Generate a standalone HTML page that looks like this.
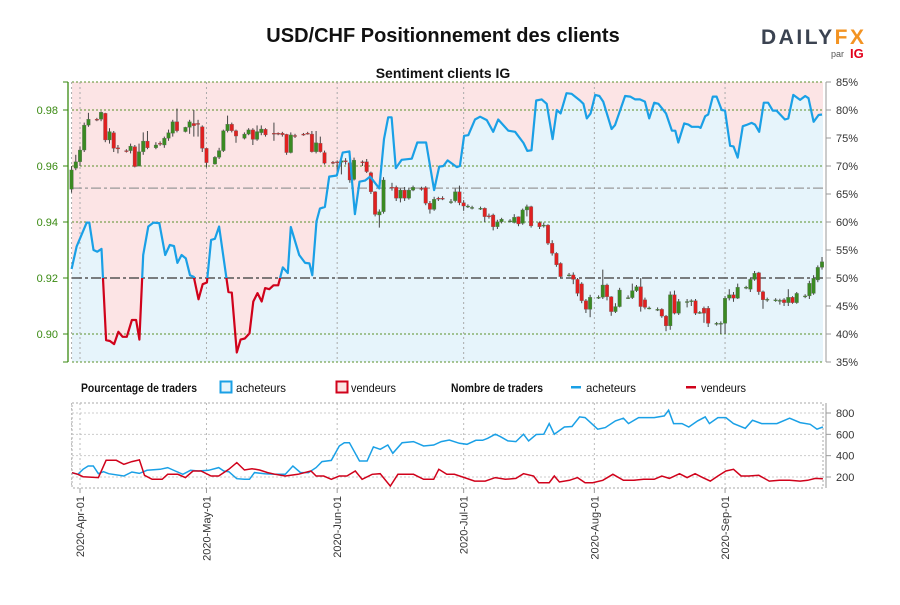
<!DOCTYPE html>
<html><head><meta charset="utf-8"><style>
body{margin:0;background:#fff;width:900px;height:600px;overflow:hidden;font-family:"Liberation Sans",sans-serif}
svg text{font-family:"Liberation Sans",sans-serif}
</style></head><body>
<svg id="chart" width="900" height="600" viewBox="0 0 900 600" xmlns="http://www.w3.org/2000/svg">
<text x="443" y="42" text-anchor="middle" font-size="20" font-weight="bold" fill="#111">USD/CHF Positionnement des clients</text>
<g>
<text x="761" y="44" font-size="21" font-weight="bold" fill="#3b4351" textLength="103" lengthAdjust="spacing">DAILY<tspan fill="#f39322">FX</tspan></text>
<text x="831" y="57" font-size="9" fill="#555">par</text>
<text x="850" y="58" font-size="13" font-weight="bold" fill="#e3001b">IG</text>
</g>
<text x="443" y="78" text-anchor="middle" font-size="14" font-weight="bold" fill="#111">Sentiment clients IG</text>
<defs>
<clipPath id="plotclip"><rect x="72" y="82" width="751" height="280"/></clipPath>
<clipPath id="aboveclip"><rect x="60" y="60" width="780" height="218"/></clipPath>
<clipPath id="belowclip"><rect x="60" y="278" width="780" height="100"/></clipPath>
</defs>
<g id="main"></g>
<g id="legend" font-size="12" fill="#111">
<text x="81" y="392" font-weight="bold" font-size="11.5" textLength="116" lengthAdjust="spacingAndGlyphs">Pourcentage de traders</text>
<rect x="220.5" y="381.5" width="11" height="11" fill="#e6f4fb" stroke="#1aa0e6" stroke-width="2"/>
<text x="236" y="392" textLength="50" lengthAdjust="spacingAndGlyphs">acheteurs</text>
<rect x="336.5" y="381.5" width="11" height="11" fill="#fce4e4" stroke="#d0021b" stroke-width="2"/>
<text x="351" y="392" textLength="45" lengthAdjust="spacingAndGlyphs">vendeurs</text>
<text x="451" y="392" font-weight="bold" font-size="11.5" textLength="92" lengthAdjust="spacingAndGlyphs">Nombre de traders</text>
<rect x="571" y="386" width="10" height="2.5" fill="#1aa0e6"/>
<text x="586" y="392" textLength="50" lengthAdjust="spacingAndGlyphs">acheteurs</text>
<rect x="686" y="386" width="10" height="2.5" fill="#d0021b"/>
<text x="701" y="392" textLength="45" lengthAdjust="spacingAndGlyphs">vendeurs</text>
</g>
<g id="lower"></g>
<g id="xaxis"></g>
</svg>
<script>
// ---- data ----
const monthLabels = ["2020-Apr-01","2020-May-01","2020-Jun-01","2020-Jul-01","2020-Aug-01","2020-Sep-01"];
const monthDays = [0,30,61,91,122,153];
const priceTicks = [0.90,0.92,0.94,0.96,0.98];
const pctTicks = [35,40,45,50,55,60,65,70,75,80,85];
const countTicks = [200,400,600,800];
const refPrice = 0.9521;
const sentDays = [-2.0,-0.8,1.6,2.2,3.2,4.1,5.1,6.2,7.1,8.1,9.1,10.1,11.1,12.3,13.3,14.1,15.0,16.2,17.4,18.8,20.2,21.3,22.3,23.1,24.1,25.1,26.1,27.0,28.1,29.1,30.1,31.1,32.0,33.0,35.2,36.0,37.2,38.1,39.1,40.2,41.1,42.1,43.1,43.9,44.9,45.9,47.0,48.1,49.3,50.0,52.0,53.4,54.4,55.1,56.1,56.9,58.1,59.1,60.9,62.3,63.9,65.2,66.3,67.6,68.8,71.0,72.1,73.1,73.9,74.9,76.3,78.7,80.0,82.1,84.0,85.2,86.2,87.2,89.4,90.1,91.1,92.1,93.7,94.9,96.5,98.0,99.2,101.6,103.2,105.2,106.1,107.1,108.2,109.5,110.7,112.1,113.1,114.0,115.4,116.6,118.6,119.4,120.2,121.1,122.2,123.2,124.1,126.1,126.9,129.3,130.5,131.7,132.8,134.0,135.0,136.2,137.2,139.0,140.4,141.2,141.9,143.3,144.3,145.1,146.7,147.2,148.3,149.0,150.1,151.0,152.2,153.0,154.2,155.0,156.0,157.2,158.0,159.3,160.1,161.1,162.2,163.2,164.3,165.2,167.2,168.0,169.2,170.8,172.0,172.8,174.0,175.2,176.0];
const sentPct = [51.6,55.6,59.9,59.9,55,54.7,55.2,38.9,38.75,38.2,40.4,39.5,39.5,42.5,42.5,39,54.1,59.2,59.9,59.8,54.1,55.9,55.7,52.7,54.1,53.5,50.5,50.2,46.2,48.9,49.2,56.8,57,59.2,47.5,47.4,36.7,39,39.2,40.1,45.8,47.3,45.8,48.2,48,48.7,48.7,51.9,50.9,59.1,54.1,52.7,52.6,50.5,60.1,62.4,62.7,68.1,68.3,72.4,72.6,61.4,67.2,67.4,68.1,66,74.8,78.7,78.7,69.6,71.1,71.3,74.2,74.2,65.7,69.9,70,71,69.8,70,75.4,75.5,78.3,78.8,78.2,76.1,78.3,76.3,76.1,74.1,72.7,72.8,81.7,81.9,81.1,74.8,80,79.4,83,82.9,81.7,81.1,78.5,79.4,82.7,82.5,81.5,76.6,77.3,82.5,82.4,81.9,81.9,81.5,78.5,81.3,81.1,79.4,76.3,76.3,74.2,77.6,77.4,77,77,76.8,78.9,79.2,82.4,82.4,80,79.9,73.6,73.5,71.5,77.1,77.3,77.7,77.4,76.1,81.3,81.3,79.9,79.9,78.3,78.5,82.7,81.8,82.5,82.1,77.9,79.1,79.2];
const cDays = [-2,-1,0,1,2,4,5,6,7,8,9,11,12,13,14,15,16,18,19,20,21,22,23,25,26,27,28,29,30,32,33,34,35,36,37,39,40,41,42,43,44,46,47,48,49,50,51,53,54,55,56,57,58,60,61,62,63,64,65,67,68,69,70,71,72,74,75,76,77,78,79,81,82,83,84,85,86,88,89,90,91,92,93,95,96,97,98,99,100,102,103,104,105,106,107,109,110,111,112,113,114,116,117,118,119,120,121,123,124,125,126,127,128,130,131,132,133,134,135,137,138,139,140,141,142,144,145,146,147,148,149,151,152,153,154,155,156,158,159,160,161,162,163,165,166,167,168,169,170,172,173,174,175,176];
const cOpen = [.9517,.9592,.9615,.9657,.9746,.9767,.9767,.9788,.9693,.9719,.9665,.9655,.9655,.9669,.9600,.9651,.9689,.9665,.9681,.9675,.9699,.9717,.9758,.9723,.9738,.9752,.9752,.9740,.9663,.9607,.9631,.9655,.9726,.9749,.9726,.9699,.9714,.9729,.9695,.9719,.9731,.9717,.9717,.9717,.9713,.9648,.9709,.9714,.9717,.9714,.9651,.9681,.9648,.9613,.9615,.9613,.9619,.9612,.9552,.9615,.9615,.9576,.9508,.9425,.9437,.9524,.9524,.9485,.9514,.9485,.9514,.9520,.9523,.9467,.9445,.9485,.9485,.9473,.9476,.9508,.9469,.9457,.9452,.9449,.9449,.9422,.9425,.9383,.9401,.9404,.9398,.9419,.9395,.9443,.9455,.9398,.9389,.9389,.9324,.9288,.9252,.9211,.9211,.9195,.9179,.9119,.9088,.9131,.9131,.9175,.9133,.9080,.9098,.9130,.9130,.9155,.9169,.9122,.9093,.9088,.9088,.9064,.9029,.9140,.9074,.9116,.9119,.9119,.9077,.9092,.9092,.9038,.9038,.9038,.9128,.9140,.9128,.9167,.9160,.9195,.9219,.9151,.9124,.9122,.9120,.9122,.9112,.9131,.9112,.9136,.9136,.9145,.9193,.9238];
const cClose = [.9586,.9615,.9657,.9746,.9767,.9765,.9792,.9693,.9723,.9663,.9661,.9653,.9671,.9598,.9651,.9689,.9665,.9675,.9679,.9699,.9719,.9758,.9726,.9738,.9758,.9744,.9750,.9663,.9612,.9631,.9655,.9726,.9749,.9726,.9707,.9714,.9729,.9695,.9723,.9732,.9711,.9715,.9715,.9712,.9648,.9711,.9707,.9713,.9716,.9651,.9683,.9651,.9610,.9612,.9614,.9619,.9615,.9550,.9621,.9614,.9580,.9508,.9427,.9437,.9550,.9522,.9485,.9514,.9485,.9514,.9524,.9519,.9467,.9445,.9481,.9484,.9484,.9473,.9508,.9469,.9457,.9457,.9452,.9449,.9419,.9421,.9383,.9401,.9410,.9404,.9417,.9393,.9443,.9455,.9386,.9383,.9389,.9324,.9288,.9247,.9205,.9211,.9195,.9145,.9119,.9088,.9131,.9131,.9175,.9133,.9080,.9098,.9157,.9130,.9155,.9169,.9098,.9095,.9093,.9088,.9064,.9029,.9140,.9074,.9116,.9116,.9119,.9074,.9077,.9074,.9038,.9038,.9038,.9128,.9140,.9128,.9167,.9167,.9195,.9217,.9151,.9122,.9124,.9122,.9120,.9112,.9131,.9112,.9145,.9136,.9181,.9199,.9238,.9258];
const cHigh = [.9600,.9640,.9670,.9755,.9790,.9772,.9795,.9790,.9735,.9725,.9675,.9660,.9680,.9675,.9680,.9720,.9725,.9685,.9688,.9705,.9730,.9765,.9805,.9740,.9765,.9800,.9765,.9745,.9665,.9635,.9665,.9730,.9780,.9755,.9730,.9720,.9735,.9735,.9745,.9745,.9735,.9755,.9720,.9722,.9715,.9720,.9715,.9718,.9722,.9725,.9725,.9705,.9655,.9618,.9620,.9625,.9628,.9615,.9630,.9620,.9625,.9580,.9510,.9445,.9560,.9540,.9530,.9520,.9525,.9520,.9530,.9526,.9528,.9475,.9490,.9490,.9492,.9482,.9520,.9530,.9478,.9463,.9458,.9455,.9452,.9430,.9430,.9408,.9415,.9410,.9428,.9420,.9448,.9462,.9458,.9402,.9398,.9392,.9335,.9292,.9256,.9218,.9220,.9200,.9185,.9125,.9140,.9138,.9230,.9180,.9135,.9110,.9165,.9138,.9180,.9175,.9200,.9130,.9098,.9095,.9092,.9068,.9152,.9155,.9125,.9125,.9124,.9125,.9082,.9098,.9100,.9043,.9045,.9135,.9160,.9150,.9180,.9172,.9200,.9225,.9222,.9155,.9130,.9128,.9126,.9128,.9160,.9135,.9150,.9142,.9190,.9210,.9245,.9275];
const cLow = [.9505,.9585,.9600,.9650,.9740,.9760,.9760,.9685,.9680,.9650,.9645,.9648,.9645,.9595,.9598,.9640,.9660,.9660,.9672,.9665,.9690,.9705,.9720,.9720,.9715,.9705,.9705,.9650,.9595,.9605,.9625,.9650,.9720,.9720,.9683,.9695,.9710,.9675,.9690,.9710,.9705,.9690,.9710,.9705,.9640,.9645,.9700,.9708,.9712,.9648,.9645,.9648,.9605,.9606,.9580,.9570,.9605,.9540,.9548,.9600,.9575,.9500,.9420,.9380,.9430,.9512,.9475,.9470,.9475,.9480,.9510,.9512,.9460,.9430,.9440,.9475,.9478,.9465,.9470,.9460,.9440,.9450,.9445,.9443,.9400,.9412,.9370,.9375,.9395,.9398,.9395,.9385,.9390,.9420,.9380,.9375,.9380,.9318,.9280,.9240,.9200,.9205,.9178,.9135,.9110,.9075,.9060,.9125,.9125,.9120,.9065,.9075,.9095,.9125,.9125,.9150,.9080,.9088,.9088,.9082,.9058,.9010,.9015,.9070,.9068,.9095,.9100,.9068,.9072,.9040,.9025,.9030,.9000,.9000,.9120,.9115,.9125,.9160,.9150,.9190,.9140,.9090,.9115,.9115,.9105,.9100,.9100,.9108,.9108,.9128,.9125,.9140,.9185,.9230];
const buyDays = [-1.9,-0.49,0.72,1.94,3.15,4.37,5.58,6.8,10.4,12.3,14.1,15.9,19.0,20.8,22.6,24.4,26.2,28.1,30.5,32.9,34.1,35.3,37.2,39.0,40.2,41.4,43.8,46.3,48.7,50.5,52.3,54.2,56.0,57.4,59.6,61.5,62.7,63.9,66.3,68.1,69.6,71.2,73.0,74.2,76.4,79.1,81.5,83.9,85.7,87.6,90.0,91.8,93.9,95.5,96.7,98.5,99.7,101.5,103.4,105.2,106.4,108.2,110.0,111.3,112.5,114.9,116.7,118.5,119.8,122.8,124.6,127.0,128.9,130.1,132.5,134.3,136.2,138.6,139.6,140.8,142.8,144.4,146.5,148.3,149.3,151.3,153.2,155.0,157.8,159.5,161.7,165.3,168.3,170.8,173.2,174.8,176.2];
const buyCount = [240,225,272,303,303,231,250,231,209,247,234,263,272,288,256,225,263,256,263,288,256,250,184,178,178,241,231,225,225,303,241,241,288,344,356,491,522,522,350,350,482,460,500,422,522,532,491,500,532,547,516,507,544,544,563,601,579,538,532,601,538,598,601,701,601,669,673,763,757,648,663,726,751,701,757,757,757,773,826,701,701,669,726,763,701,757,757,701,657,732,701,701,751,710,694,648,669];
const sellDays = [-1.9,-0.49,0.72,4.37,6.2,8.6,10.4,12.3,14.1,15.3,17.1,19.5,20.8,23.2,25.0,26.8,28.7,31.1,32.9,35.3,37.2,39.0,40.8,42.6,44.5,46.3,48.7,51.7,54.8,56.0,57.8,59.6,61.5,63.3,65.3,66.9,69.3,71.2,73.6,75.4,79.1,81.5,83.9,85.1,87.0,88.8,91.2,93.6,96.1,98.5,100.9,103.4,105.2,107.6,108.8,111.3,112.5,113.7,116.1,118.0,119.8,121.6,124.0,126.4,128.9,131.3,133.7,136.2,138.0,139.8,142.2,144.0,145.9,147.7,149.5,151.3,153.2,155.0,156.8,158.6,161.0,163.5,165.9,168.3,170.8,172.6,174.4,176.2];
const sellCount = [240,225,203,194,357,357,319,344,360,216,178,178,225,225,194,256,256,209,209,272,335,266,278,266,241,225,209,225,256,209,209,178,209,209,256,178,225,231,115,225,225,178,178,272,225,225,194,162,162,194,178,187,231,209,147,147,209,153,169,194,147,147,169,225,169,169,178,178,209,187,231,194,231,194,162,209,256,272,209,209,216,162,169,169,162,169,187,184];

// ---- scales ----
const X0 = 72, X1 = 823;
const xDay = d => 80 + d * 4.216;
const yPrice = p => 334 - (p - 0.90) * 2800;
const yPct = v => 278 - (v - 50) * 5.6;
const yCount = c => 413 + (800 - c) * 64 / 600;
const NS = "http://www.w3.org/2000/svg";
function mk(tag, attrs, parent){ const e = document.createElementNS(NS, tag); for (const k in attrs) e.setAttribute(k, attrs[k]); parent.appendChild(e); return e; }
const main = document.getElementById('main');
const lower = document.getElementById('lower');
const xaxis = document.getElementById('xaxis');

const bgPink = mk('rect', {x:X0, y:82, width:X1-X0, height:280, fill:'#fce4e5'}, main);


let linePts = sentDays.map((d,i)=>xDay(d).toFixed(1)+','+yPct(sentPct[i]).toFixed(1));
let areaD = 'M'+X0+',362 L'+X0+','+yPct(sentPct[0]).toFixed(1)+' L'+linePts.join(' L')+' L'+X1+','+yPct(sentPct[sentPct.length-1]).toFixed(1)+' L'+X1+',362 Z';
const area = mk('path', {d:areaD, fill:'#e6f4fb', 'clip-path':'url(#plotclip)'}, main);



[82,110,166,222,334,362].forEach(y=>{
  const g = mk('line', {x1:X0, x2:X1, y1:y, y2:y, stroke:'#5a8f2a', 'stroke-width':1, 'stroke-dasharray':'2,2'}, main);
  
  
});
[-2].concat(monthDays).forEach(d=>{
  const g = mk('line', {x1:xDay(d), x2:xDay(d), y1:82, y2:362, stroke:'#aaa', 'stroke-width':1, 'stroke-dasharray':'2,3'}, main);
  
  
});
const refL = mk('line', {x1:X0, x2:X1, y1:yPrice(refPrice), y2:yPrice(refPrice), stroke:'#999', 'stroke-width':1.3, 'stroke-dasharray':'10,3,3,3'}, main);


const midL = mk('line', {x1:X0, x2:X1, y1:yPct(50), y2:yPct(50), stroke:'#555', 'stroke-width':1.5, 'stroke-dasharray':'10,3,3,3'}, main);



cDays.forEach((d,i)=>{
  const x = xDay(d), o = cOpen[i], c = cClose[i];
  const up = c >= o;
  const g = mk('g', {}, main);
  
  
  mk('line', {x1:x, x2:x, y1:yPrice(cHigh[i]), y2:yPrice(cLow[i]), stroke:'#444', 'stroke-width':1}, g);
  const top = yPrice(Math.max(o,c)), bot = yPrice(Math.min(o,c));
  mk('rect', {x:x-1.8, y:top, width:3.6, height:Math.max(1, bot-top), fill: up ? '#3a8a22' : '#e02020', stroke: '#666', 'stroke-width':0.3}, g);
});

const sentLineAbove = mk('polyline', {points:linePts.join(' '), fill:'none', stroke:'#1aa0e6', 'stroke-width':2.2, 'stroke-linejoin':'round', 'clip-path':'url(#aboveclip)'}, main);


const sentLineBelow = mk('polyline', {points:linePts.join(' '), fill:'none', stroke:'#d0021b', 'stroke-width':2.2, 'stroke-linejoin':'round', 'clip-path':'url(#belowclip)'}, main);



const la = mk('line', {x1:68, x2:68, y1:82, y2:362, stroke:'#3a8a12', 'stroke-width':1.3}, main);


priceTicks.forEach(p=>{
  const y = yPrice(p);
  mk('line', {x1:63, x2:68, y1:y, y2:y, stroke:'#3a8a12'}, main);
  const t = mk('text', {x:58, y:y+4, 'text-anchor':'end', 'font-size':11, fill:'#3a8a12'}, main);
  t.textContent = p.toFixed(2);
  
  
});
[82,362].forEach(y=>mk('line', {x1:63, x2:68, y1:y, y2:y, stroke:'#3a8a12'}, main));
const ra = mk('line', {x1:826, x2:826, y1:82, y2:362, stroke:'#999'}, main);


pctTicks.forEach(v=>{
  const y = yPct(v);
  mk('line', {x1:826, x2:831, y1:y, y2:y, stroke:'#999'}, main);
  const t = mk('text', {x:836, y:y+4, 'font-size':11, fill:'#333'}, main);
  t.textContent = v + '%';
  
  
});

const box = mk('rect', {x:X0, y:403, width:X1-X0, height:85, fill:'none', stroke:'#aaa', 'stroke-dasharray':'2,2'}, lower);


countTicks.forEach(c=>{
  const y = yCount(c);
  mk('line', {x1:X0, x2:X1, y1:y, y2:y, stroke:'#ccc', 'stroke-dasharray':'2,2'}, lower);
  mk('line', {x1:826, x2:831, y1:y, y2:y, stroke:'#999'}, lower);
  const t = mk('text', {x:836, y:y+4, 'font-size':11, fill:'#333'}, lower);
  t.textContent = c;
  
  
});
mk('line', {x1:826, x2:826, y1:403, y2:488, stroke:'#999'}, lower);
[-2].concat(monthDays).forEach(d=>mk('line', {x1:xDay(d), x2:xDay(d), y1:403, y2:488, stroke:'#bbb', 'stroke-dasharray':'2,3'}, lower));
const bl = mk('polyline', {points: buyDays.map((d,i)=>xDay(d).toFixed(1)+','+yCount(buyCount[i]).toFixed(1)).join(' '), fill:'none', stroke:'#1aa0e6', 'stroke-width':1.5}, lower);


const sl = mk('polyline', {points: sellDays.map((d,i)=>xDay(d).toFixed(1)+','+yCount(sellCount[i]).toFixed(1)).join(' '), fill:'none', stroke:'#d0021b', 'stroke-width':1.5}, lower);



monthDays.forEach((d,i)=>{
  const x = xDay(d);
  mk('line', {x1:x, x2:x, y1:488, y2:493, stroke:'#999'}, xaxis);
  const t = mk('text', {x:0, y:0, 'text-anchor':'end', 'font-size':11, fill:'#333', transform:'translate('+(x+4)+',496) rotate(-90)'}, xaxis);
  t.textContent = monthLabels[i];
  
  
});
</script>
</body></html>
